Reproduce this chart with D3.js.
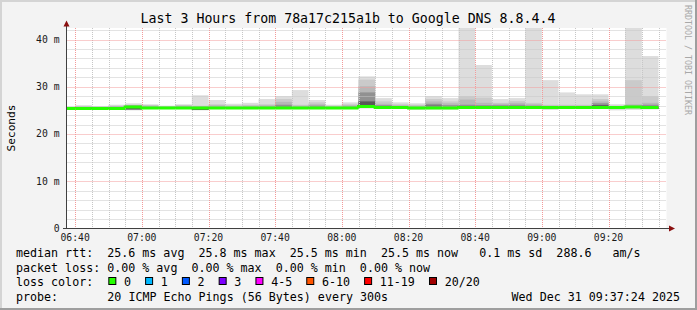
<!DOCTYPE html>
<html>
<head>
<meta charset="utf-8">
<script src="https://cdn.jsdelivr.net/npm/d3@7/dist/d3.min.js"></script>
<style>
  html, body { margin: 0; padding: 0; background: #f3f3f3; }
  svg { display: block; font-family: "DejaVu Sans Mono", monospace; }
  text { white-space: pre; }
</style>
</head>
<body>
<div id="chart"></div>
<script>
// end time of each 5 minute step
var times = ["06:40","06:45","06:50","06:55","07:00","07:05","07:10","07:15","07:20","07:25","07:30","07:35",
             "07:40","07:45","07:50","07:55","08:00","08:05","08:10","08:15","08:20","08:25","08:30","08:35",
             "08:40","08:45","08:50","08:55","09:00","09:05","09:10","09:15","09:20","09:25","09:30","09:35"];

// median rtt (ms)
var median = [25.4,25.4,25.4,25.4,25.7,25.5,25.5,25.5,25.5,25.5,25.5,25.5,25.5,25.5,25.5,25.5,25.5,25.5,
              25.8,25.6,25.6,25.5,25.5,25.5,25.6,25.6,25.6,25.6,25.6,25.6,25.6,25.6,25.6,25.6,25.7,25.6];

// sorted pings (ms): highest, 19th, 18th, 16th, 13th, 5th, lowest
var p20 = [25.8,26.1,25.9,26.2,26.5,26.3,26.0,26.3,28.2,27.2,26.4,26.6,27.4,28.0,29.3,27.2,26.2,26.7,
           32.2,27.6,26.7,26.5,28.0,27.6,45.0,34.6,27.4,27.6,45.0,31.4,28.8,28.4,28.4,26.3,45.0,36.5];
var p19 = [25.7,25.9,25.8,26.0,26.2,26.1,25.9,26.1,26.0,26.3,26.1,26.2,26.3,27.4,26.2,26.7,26.0,26.3,
           31.5,26.9,26.3,26.2,27.4,26.9,28.0,27.7,26.6,27.0,26.6,26.2,26.2,26.2,27.4,26.0,31.4,28.0];
var p18 = [25.7,25.8,25.7,25.9,26.1,26.0,25.8,26.0,25.9,26.1,25.9,26.0,26.1,26.8,26.0,26.3,25.9,26.1,
           30.1,26.4,26.1,26.0,26.9,26.5,27.3,26.6,26.4,26.6,26.3,26.0,26.0,26.0,26.9,25.9,26.3,26.6];
var p16 = [25.6,25.7,25.6,25.8,26.0,25.8,25.7,25.8,25.8,25.8,25.7,25.8,25.9,26.2,25.8,26.0,25.7,25.9,
           28.8,26.1,25.9,25.8,26.4,26.1,26.2,26.1,26.1,26.2,26.0,25.9,25.8,25.9,26.5,25.8,26.0,26.2];
var p13 = [25.5,25.6,25.5,25.6,25.8,25.7,25.6,25.6,25.7,25.7,25.6,25.6,25.7,25.9,25.7,25.8,25.6,25.7,
           26.9,25.8,25.7,25.6,26.0,25.8,25.9,25.8,25.8,25.9,25.8,25.8,25.7,25.7,26.1,25.7,25.8,25.9];
var p5  = [25.3,25.3,25.3,25.3,25.2,25.4,25.4,25.4,25.1,25.4,25.4,25.4,25.4,25.4,25.4,25.4,25.4,25.4,
           25.6,25.5,25.5,25.3,25.4,25.4,25.5,25.5,25.4,25.4,25.5,25.3,25.5,25.5,25.4,25.5,25.5,25.3];
var p1  = [25.2,25.2,25.2,25.2,25.0,25.3,25.3,25.3,25.0,25.3,25.3,25.3,25.3,25.3,25.3,25.3,25.3,25.3,
           25.4,25.3,25.3,25.1,25.2,25.2,25.3,25.3,25.3,25.3,25.3,25.1,25.3,25.3,25.3,25.0,25.1,25.2];

// lost pings out of 20
var loss = [0,0,0,0,0,0,0,0,0,0,0,0,0,0,0,0,0,0,0,0,0,0,0,0,0,0,0,0,0,0,0,0,0,0,0,0];

var xTicks = ["06:40","07:00","07:20","07:40","08:00","08:20","08:40","09:00","09:20"];
var yTicks = [0, 10, 20, 30, 40];
var yTickLabels = ["0", "10 m", "20 m", "30 m", "40 m"];

var lossLabels = ["0", "1", "2", "3", "4-5", "6-10", "11-19", "20/20"];
var lossColors = ["#26ff00", "#00b8ff", "#0059ff", "#7e00ff", "#ff00ff", "#ff5500", "#ff0000", "#a00000"];
var lossUpper = [0, 1, 2, 3, 5, 10, 19, 20];

var rttStats = ["25.6 ms avg", "25.8 ms max", "25.5 ms min", "25.5 ms now", "0.1 ms sd", "288.6", "am/s"];
var lossStats = ["0.00 % avg", "0.00 % max", "0.00 % min", "0.00 % now"];

var W = 697, H = 310;
var margin = { top: 28, left: 66.5 };
var width = 600, height = 200;

var parseHM = d3.timeParse("%H:%M");
var parseHMS = d3.timeParse("%H:%M:%S");

var x = d3.scaleTime()
  .domain([parseHMS("06:37:24"), parseHMS("09:37:24")])
  .range([margin.left, margin.left + width]);
var y = d3.scaleLinear()
  .domain([0, 42.33])
  .range([margin.top + height + 0.5, margin.top + 0.5]);

var svg = d3.select("#chart").append("svg")
  .attr("width", W)
  .attr("height", H);

// background + shaded frame
svg.append("rect").attr("width", W).attr("height", H).attr("fill", "#f3f3f3");
svg.append("rect").attr("width", W).attr("height", 2).attr("fill", "#d4d4d4");
svg.append("rect").attr("width", 2).attr("height", H).attr("fill", "#d4d4d4");
svg.append("rect").attr("y", H - 2).attr("width", W).attr("height", 2).attr("fill", "#9e9e9e");
svg.append("rect").attr("x", W - 2).attr("width", 2).attr("height", H).attr("fill", "#9e9e9e");

svg.append("defs").append("clipPath").attr("id", "plotClip")
  .append("rect")
  .attr("x", margin.left).attr("y", margin.top)
  .attr("width", width).attr("height", height);

// canvas
svg.append("rect")
  .attr("x", margin.left).attr("y", margin.top)
  .attr("width", width).attr("height", height)
  .attr("fill", "#ffffff");

var bars = times.map(function (t, i) {
  var end = parseHM(t);
  return { i: i, start: d3.timeMinute.offset(end, -5), end: end };
});

// smoke, outer (light) band first
var bands = [
  { lo: p1, hi: p20, color: "#dddddd" },
  { lo: p5, hi: p19, color: "#cacaca" },
  { lo: p5, hi: p18, color: "#b7b7b7" },
  { lo: p5, hi: p16, color: "#919191" },
  { lo: p5, hi: p13, color: "#585858" }
];

var smoke = svg.append("g").attr("clip-path", "url(#plotClip)");
bands.forEach(function (b) {
  smoke.append("g")
    .attr("fill", b.color)
    .selectAll("rect")
    .data(bars)
    .join("rect")
    .attr("x", d => x(d.start))
    .attr("width", d => x(d.end) - x(d.start))
    .attr("y", d => y(b.hi[d.i]))
    .attr("height", d => Math.max(0, y(b.lo[d.i]) - y(b.hi[d.i])));
});

// grid (drawn over the smoke)
var grid = svg.append("g").attr("stroke-dasharray", "1,1").attr("stroke-width", 1);
var minorT = d3.timeMinute.every(5).range(x.domain()[0], x.domain()[1]);
grid.append("g").attr("stroke", "#c6c6c6")
  .selectAll("line").data(minorT.filter(t => t.getMinutes() % 20 !== 0))
  .join("line")
  .attr("x1", d => Math.round(x(d)) + 0.5).attr("x2", d => Math.round(x(d)) + 0.5)
  .attr("y1", margin.top).attr("y2", margin.top + height);
grid.append("g").attr("stroke", "#c6c6c6")
  .selectAll("line").data(d3.range(2, 43, 2).filter(v => v % 10 !== 0))
  .join("line")
  .attr("x1", margin.left).attr("x2", margin.left + width)
  .attr("y1", d => Math.round(y(d)) + 0.5).attr("y2", d => Math.round(y(d)) + 0.5);
grid.append("g").attr("stroke", "#f29a9a")
  .selectAll("line").data(xTicks)
  .join("line")
  .attr("x1", d => Math.round(x(parseHM(d))) + 0.5).attr("x2", d => Math.round(x(parseHM(d))) + 0.5)
  .attr("y1", margin.top).attr("y2", margin.top + height);
grid.append("g").attr("stroke", "#f29a9a")
  .selectAll("line").data(yTicks.slice(1))
  .join("line")
  .attr("x1", margin.left).attr("x2", margin.left + width)
  .attr("y1", d => Math.round(y(d)) + 0.5).attr("y2", d => Math.round(y(d)) + 0.5);

// median line coloured by loss
function lossColor(l) {
  for (var k = 0; k < lossUpper.length; k++) if (l <= lossUpper[k]) return lossColors[k];
  return lossColors[lossColors.length - 1];
}
svg.append("g")
  .attr("clip-path", "url(#plotClip)")
  .attr("fill", "none")
  .attr("stroke-width", 3)
  .selectAll("path")
  .data(bars)
  .join("path")
  .attr("stroke", d => lossColor(loss[d.i]))
  .attr("d", d => {
    var prev = d.i > 0 ? median[d.i - 1] : median[d.i];
    return "M" + x(d.start) + "," + y(prev) + "V" + y(median[d.i]) + "H" + x(d.end);
  });

// axes
svg.append("line")
  .attr("x1", 66.5).attr("x2", 66.5).attr("y1", 229).attr("y2", 24)
  .attr("stroke", "#404040");
svg.append("line")
  .attr("x1", 63).attr("x2", 671).attr("y1", 228.5).attr("y2", 228.5)
  .attr("stroke", "#404040");
svg.append("path").attr("d", "M63.5,26.5L69.5,26.5L66.5,20.5Z").attr("fill", "#8a0f0f");
svg.append("path").attr("d", "M669,225.5L669,231.5L675,228.5Z").attr("fill", "#8a0f0f");

// tick labels
svg.append("g")
  .attr("font-size", "9.75px").attr("fill", "#1a1a1a").attr("text-anchor", "end")
  .selectAll("text").data(yTicks)
  .join("text")
  .attr("x", 59.5)
  .attr("y", d => y(d))
  .attr("dy", "0.35em")
  .text((d, i) => yTickLabels[i]);
svg.append("g")
  .attr("font-size", "9.75px").attr("fill", "#1a1a1a").attr("text-anchor", "middle")
  .selectAll("text").data(xTicks)
  .join("text")
  .attr("x", d => x(parseHM(d)))
  .attr("y", 241)
  .text(d => d);

// title and labels
svg.append("text")
  .attr("x", 348).attr("y", 23)
  .attr("text-anchor", "middle")
  .attr("font-size", "13.25px")
  .text("Last 3 Hours from 78a17c215a1b to Google DNS 8.8.4.4");

svg.append("text")
  .attr("transform", "translate(15,128) rotate(-90)")
  .attr("text-anchor", "middle")
  .attr("font-size", "11.2px")
  .text("Seconds");

svg.append("text")
  .attr("transform", "translate(685,5) rotate(90)")
  .attr("font-size", "8.3px")
  .attr("fill", "#a8a8a8")
  .text("RRDTOOL / TOBI OETIKER");

// legend
var fs = 11.67, cw = fs * 0.602, lx = 16;
var legend = svg.append("g").attr("font-size", fs + "px").attr("fill", "#000");

legend.append("text").attr("x", lx).attr("y", 257)
  .text("median rtt:  " + rttStats.slice(0, 4).join("  ") + "   " + rttStats[4] + "  " + rttStats[5] + "   " + rttStats[6]);
legend.append("text").attr("x", lx).attr("y", 271.5)
  .text("packet loss: " + lossStats.join("  "));
legend.append("text").attr("x", lx).attr("y", 286).text("loss color:");

var bx = lx + 13 * cw + 1;
lossLabels.forEach(function (lab, k) {
  legend.append("rect")
    .attr("x", bx + 0.5).attr("y", 277.5)
    .attr("width", 7).attr("height", 7)
    .attr("fill", lossColors[k])
    .attr("stroke", "#000");
  legend.append("text").attr("x", bx + 15.7).attr("y", 286).text(lab);
  bx = bx + 15.7 + (lab.length + 2) * cw;
});

legend.append("text").attr("x", lx).attr("y", 300.5).text("probe:");
legend.append("text").attr("x", lx + 13 * cw).attr("y", 300.5).text("20 ICMP Echo Pings (56 Bytes) every 300s");
legend.append("text").attr("x", 680).attr("y", 300.5).attr("text-anchor", "end").text("Wed Dec 31 09:37:24 2025");
</script>
</body>
</html>
